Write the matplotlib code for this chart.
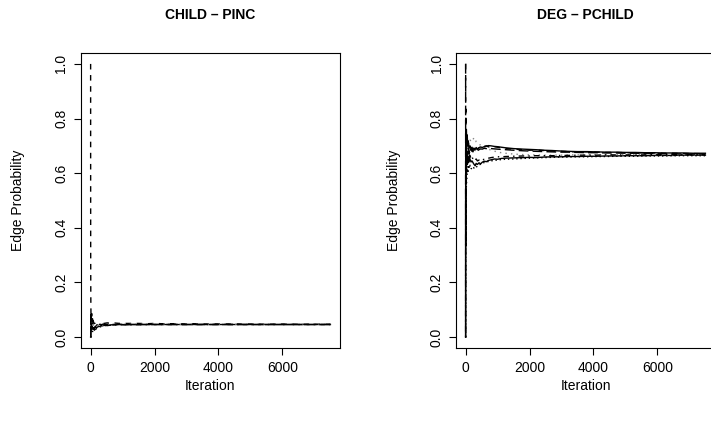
import numpy as np
import matplotlib.pyplot as plt

plt.rcParams['font.family'] = ['Liberation Sans', 'DejaVu Sans']

# iteration grid shared by all chains (running mean of the edge indicator)
iters = [1, 2, 3, 4, 6, 8, 12, 16, 25, 35, 50, 60, 70, 85, 100, 120, 140, 170, 200, 230,
         260, 300, 330, 370, 420, 470, 520, 580, 650, 720, 800, 900, 1000, 1120, 1250,
         1500, 1800, 2000, 2200, 2450, 2700, 3000, 3200, 3500, 3800, 4100, 4400, 4700,
         5000, 5300, 5600, 5900, 6200, 6500, 6800, 7100, 7500]

# CHILD - PINC chains
child_a = [1.0, 0.5, 0.333, 0.25, 0.167, 0.125, 0.083, 0.063, 0.08, 0.057,
           0.06, 0.05, 0.043, 0.047, 0.05, 0.042, 0.036, 0.041, 0.045, 0.043,
           0.046, 0.047, 0.048, 0.049, 0.05, 0.051, 0.052, 0.051, 0.051, 0.052,
           0.051, 0.050, 0.051, 0.050, 0.050, 0.050, 0.049, 0.050, 0.049, 0.049,
           0.049, 0.048, 0.049, 0.048, 0.048, 0.048, 0.048, 0.048, 0.048, 0.047,
           0.047, 0.048, 0.047, 0.047, 0.047, 0.047, 0.047]
child_b = [0, 0, 0, 0, 0, 0, 0.083, 0.063, 0.04, 0.029,
           0.04, 0.033, 0.029, 0.035, 0.03, 0.033, 0.036, 0.035, 0.035, 0.039,
           0.038, 0.04, 0.042, 0.041, 0.043, 0.042, 0.044, 0.043, 0.045, 0.044,
           0.045, 0.046, 0.046, 0.045, 0.046, 0.046, 0.046, 0.046, 0.046, 0.046,
           0.046, 0.046, 0.046, 0.046, 0.046, 0.046, 0.046, 0.046, 0.046, 0.046,
           0.046, 0.046, 0.046, 0.046, 0.046, 0.046, 0.046]
child_c = [0, 0, 0, 0, 0, 0, 0.083, 0.063, 0.04, 0.057,
           0.04, 0.05, 0.043, 0.047, 0.04, 0.042, 0.043, 0.041, 0.04, 0.043,
           0.042, 0.045, 0.044, 0.045, 0.044, 0.045, 0.046, 0.045, 0.046, 0.046,
           0.047, 0.046, 0.047, 0.047, 0.047, 0.047, 0.047, 0.047, 0.047, 0.047,
           0.047, 0.047, 0.047, 0.047, 0.047, 0.047, 0.047, 0.047, 0.047, 0.047,
           0.047, 0.047, 0.047, 0.047, 0.047, 0.047, 0.047]
child_d = [0, 0, 0, 0, 0, 0, 0, 0.063, 0.04, 0.029,
           0.02, 0.017, 0.029, 0.024, 0.03, 0.025, 0.029, 0.029, 0.035, 0.035,
           0.038, 0.037, 0.039, 0.041, 0.041, 0.043, 0.042, 0.043, 0.044, 0.044,
           0.045, 0.045, 0.045, 0.045, 0.045, 0.045, 0.046, 0.046, 0.046, 0.046,
           0.046, 0.046, 0.046, 0.046, 0.046, 0.046, 0.046, 0.046, 0.046, 0.046,
           0.046, 0.046, 0.046, 0.046, 0.046, 0.046, 0.046]
child_e = [0, 0, 0, 0, 0, 0, 0.083, 0.063, 0.08, 0.086,
           0.06, 0.067, 0.057, 0.059, 0.05, 0.05, 0.05, 0.047, 0.045, 0.048,
           0.046, 0.047, 0.045, 0.047, 0.047, 0.046, 0.046, 0.047, 0.046, 0.046,
           0.046, 0.047, 0.046, 0.046, 0.046, 0.046, 0.046, 0.046, 0.046, 0.046,
           0.046, 0.046, 0.046, 0.046, 0.046, 0.046, 0.046, 0.046, 0.046, 0.046,
           0.046, 0.046, 0.046, 0.046, 0.046, 0.046, 0.046]

# DEG - PCHILD chains
deg_a = [1.0, 1.0, 0.667, 0.75, 0.833, 0.75, 0.75, 0.688, 0.72, 0.686,
         0.72, 0.70, 0.686, 0.706, 0.69, 0.675, 0.686, 0.694, 0.685, 0.678,
         0.688, 0.697, 0.691, 0.686, 0.693, 0.697, 0.692, 0.698, 0.700, 0.696,
         0.701, 0.697, 0.695, 0.693, 0.690, 0.688, 0.686, 0.684, 0.685, 0.683,
         0.681, 0.680, 0.679, 0.678, 0.678, 0.677, 0.676, 0.676, 0.675, 0.675,
         0.674, 0.674, 0.673, 0.673, 0.672, 0.672, 0.671]
deg_b = [0.0, 0.5, 0.333, 0.5, 0.5, 0.625, 0.583, 0.625, 0.6, 0.657,
         0.64, 0.633, 0.657, 0.647, 0.64, 0.658, 0.65, 0.641, 0.645, 0.639,
         0.633, 0.627, 0.636, 0.632, 0.638, 0.634, 0.640, 0.644, 0.642, 0.647,
         0.649, 0.652, 0.651, 0.654, 0.655, 0.656, 0.657, 0.658, 0.657, 0.659,
         0.660, 0.660, 0.661, 0.661, 0.662, 0.662, 0.663, 0.663, 0.664, 0.664,
         0.664, 0.665, 0.665, 0.665, 0.666, 0.666, 0.666]
deg_c = [0.0, 0.0, 0.333, 0.5, 0.667, 0.625, 0.667, 0.75, 0.68, 0.714,
         0.68, 0.7, 0.714, 0.694, 0.71, 0.708, 0.721, 0.718, 0.725, 0.722,
         0.73, 0.727, 0.715, 0.711, 0.705, 0.703, 0.698, 0.695, 0.690, 0.688,
         0.684, 0.681, 0.677, 0.675, 0.673, 0.670, 0.668, 0.667, 0.667, 0.666,
         0.666, 0.666, 0.667, 0.667, 0.667, 0.668, 0.668, 0.668, 0.668, 0.668,
         0.668, 0.668, 0.667, 0.667, 0.667, 0.667, 0.667]
deg_d = [0.0, 0.5, 0.667, 0.5, 0.5, 0.5, 0.583, 0.563, 0.6, 0.629,
         0.62, 0.65, 0.643, 0.659, 0.65, 0.667, 0.664, 0.653, 0.66, 0.652,
         0.655, 0.648, 0.652, 0.645, 0.648, 0.644, 0.648, 0.651, 0.652, 0.655,
         0.657, 0.659, 0.660, 0.660, 0.661, 0.662, 0.663, 0.663, 0.664, 0.664,
         0.664, 0.665, 0.665, 0.666, 0.666, 0.666, 0.667, 0.667, 0.667, 0.667,
         0.667, 0.668, 0.668, 0.668, 0.668, 0.668, 0.668]
deg_e = [1.0, 0.5, 0.667, 0.75, 0.667, 0.75, 0.667, 0.688, 0.64, 0.686,
         0.66, 0.683, 0.671, 0.682, 0.67, 0.683, 0.679, 0.688, 0.68, 0.687,
         0.69, 0.683, 0.688, 0.682, 0.686, 0.689, 0.688, 0.691, 0.690, 0.692,
         0.690, 0.689, 0.688, 0.687, 0.686, 0.684, 0.682, 0.681, 0.680, 0.679,
         0.678, 0.677, 0.677, 0.676, 0.675, 0.675, 0.674, 0.674, 0.673, 0.673,
         0.672, 0.672, 0.671, 0.671, 0.670, 0.670, 0.670]
deg_f = [0.0, 0.0, 0.0, 0.25, 0.333, 0.5, 0.5, 0.5, 0.56, 0.571,
         0.6, 0.617, 0.6, 0.624, 0.63, 0.617, 0.629, 0.618, 0.615, 0.622,
         0.619, 0.624, 0.621, 0.627, 0.630, 0.633, 0.636, 0.639, 0.641, 0.643,
         0.645, 0.647, 0.648, 0.650, 0.651, 0.652, 0.654, 0.655, 0.656, 0.657,
         0.658, 0.659, 0.659, 0.660, 0.660, 0.661, 0.661, 0.662, 0.662, 0.662,
         0.663, 0.663, 0.663, 0.664, 0.664, 0.664, 0.664]
deg_g = [0.0, 0.5, 0.667, 0.75, 0.667, 0.625, 0.75, 0.75, 0.76, 0.714,
         0.74, 0.717, 0.7, 0.718, 0.7, 0.692, 0.7, 0.688, 0.695, 0.687,
         0.692, 0.687, 0.694, 0.689, 0.693, 0.696, 0.694, 0.697, 0.699, 0.701,
         0.700, 0.698, 0.697, 0.695, 0.693, 0.690, 0.688, 0.687, 0.686, 0.684,
         0.683, 0.681, 0.680, 0.679, 0.679, 0.678, 0.677, 0.677, 0.676, 0.676,
         0.675, 0.675, 0.674, 0.674, 0.674, 0.673, 0.673]

styles = [(0, (4, 4)), '-', (0, (1, 3)), (0, (1, 3, 4, 3)), (0, (7, 3)), (0, (1, 2)), '-']
colors = ['black', 'black', '#888888', 'black', 'black', 'black', 'black']

fig = plt.figure(figsize=(7.11, 4.22), dpi=100)
ax1 = fig.add_axes([81 / 711, 74 / 422, 259 / 711, 295 / 422])
# right panel runs past the edge of the picture, like the reference
ax2 = fig.add_axes([456 / 711, 74 / 422, 270 / 711, 295 / 422])

panels = [(ax1, 'CHILD \u2013 PINC', [child_a, child_b, child_c, child_d, child_e], 7800),
          (ax2, 'DEG \u2013 PCHILD', [deg_a, deg_b, deg_c, deg_d, deg_e, deg_f, deg_g],
           -300 + 8100 * 270 / 259)]

for ax, title, chains, xmax in panels:
    for i, ch in enumerate(chains):
        ax.plot(iters, ch, linestyle=styles[i], color=colors[i], lw=1.0)
    ax.set_xlim(-300, xmax)
    ax.set_ylim(-0.04, 1.04)
    ax.set_xticks([0, 2000, 4000, 6000])
    ax.set_yticks([0.0, 0.2, 0.4, 0.6, 0.8, 1.0])
    ax.set_yticklabels(['0.0', '0.2', '0.4', '0.6', '0.8', '1.0'], rotation=90, va='center')
    ax.tick_params(axis='x', length=5, width=0.8, pad=4.5, labelsize=10)
    ax.tick_params(axis='y', length=5, width=0.8, pad=4, labelsize=10)
    for s in ax.spines.values():
        s.set_linewidth(0.8)
    ax.set_xlabel('Iteration', fontsize=10)
    ax.set_ylabel('Edge Probability', fontsize=10)
    ax.xaxis.set_label_coords(0.5, -0.105)
    ax.yaxis.set_label_coords(-0.215, 0.5)
    ax.text(0.5, 1.129, title, transform=ax.transAxes, ha='center', va='center',
            fontsize=10, fontweight='bold')

# titles/labels of the right panel are centred on the visible R plot region
ax2.texts[0].set_x(129.5 / 270)
ax2.xaxis.set_label_coords(129.5 / 270, -0.105)
ax2.yaxis.set_label_coords(-0.205, 0.5)

plt.savefig('out.png', dpi=100)
